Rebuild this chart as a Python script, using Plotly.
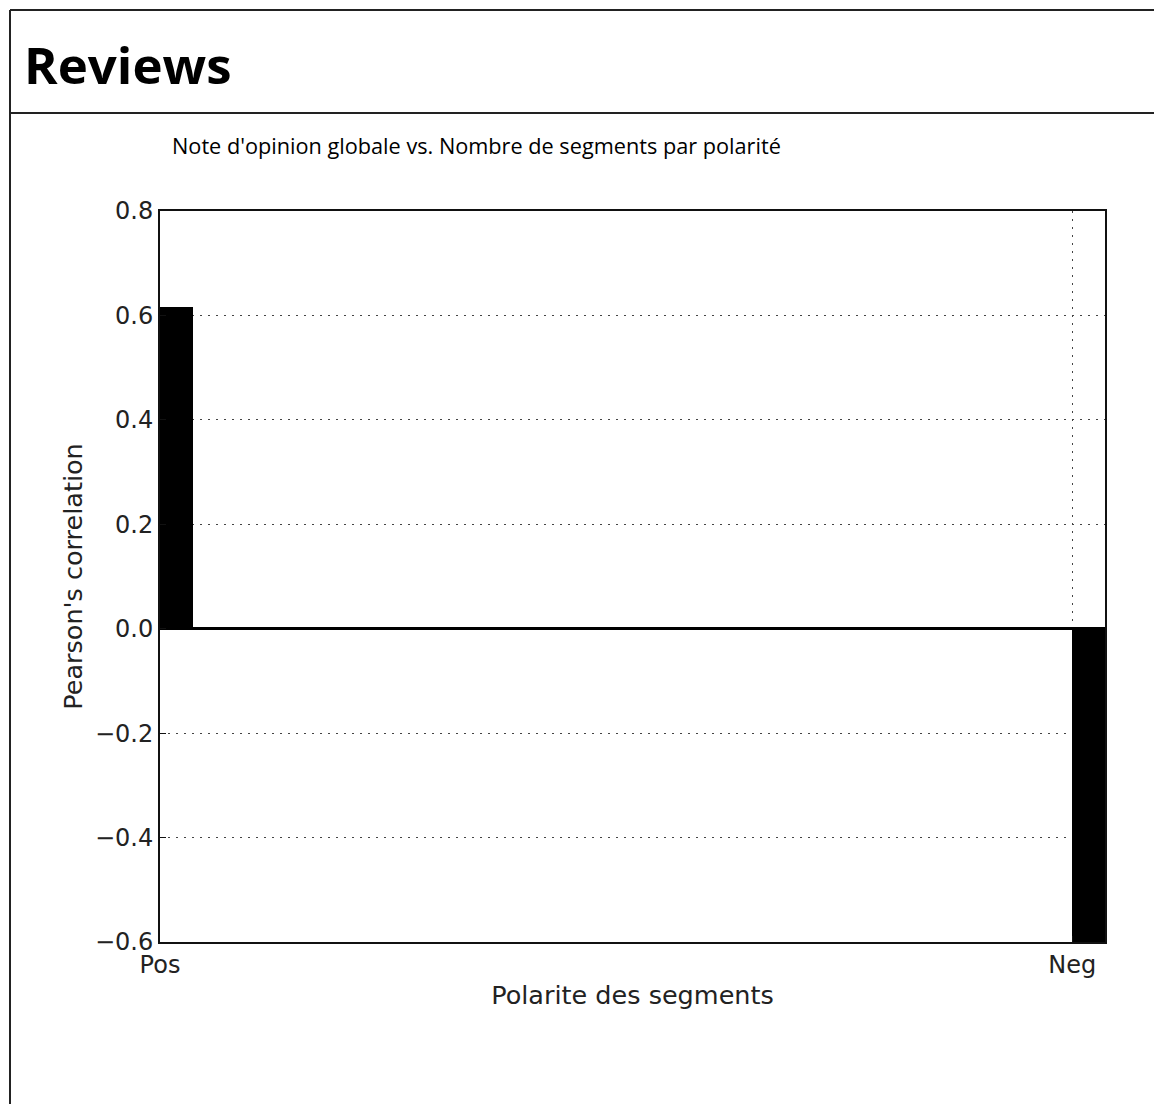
import plotly.graph_objects as go

# ---- data ----
categories = ["Pos", "Neg"]
positions = [0, 1]
correlation = [0.617, -0.62]
y_ticks = [-0.6, -0.4, -0.2, 0.0, 0.2, 0.4, 0.6, 0.8]
y_tick_labels = ["\u22120.6", "\u22120.4", "\u22120.2", "0.0", "0.2", "0.4", "0.6", "0.8"]
bar_width = 0.036

OFF = 8  # page body margin
W, H = 1162, 1104
L, R, T, B = 160 - OFF, 1105 - OFF, 211 - OFF, 942 - OFF  # plot area in figure pixels


def px_x(x):
    return (x - OFF - L) / (R - L)


def px_y(y):
    return (B - (y - OFF)) / (B - T)


fig = go.Figure()
fig.add_trace(go.Bar(
    x=positions, y=correlation, width=bar_width, offset=0,
    marker=dict(color="black", line=dict(color="black", width=0)),
    showlegend=False, hoverinfo="skip",
))

tickfont = dict(family="DejaVu Sans", size=24, color="#222")
titlefont = dict(family="DejaVu Sans", size=25.5, color="#222")

fig.update_layout(
    width=W, height=H,
    margin=dict(l=L, r=W - R, t=T, b=H - B, autoexpand=False),
    paper_bgcolor="white", plot_bgcolor="white",
    bargap=0,
    xaxis=dict(
        range=[0, 1 + bar_width], tickvals=positions, ticktext=categories,
        showgrid=True, gridcolor="#444", griddash="2px,6px", gridwidth=1.3,
        zeroline=False, showline=True, linecolor="#111", linewidth=2, mirror=True,
        ticks="inside", ticklen=6, tickcolor="#111",
        tickfont=tickfont, ticklabelstandoff=0,
        title=dict(text="Polarite des segments", font=titlefont, standoff=8),
    ),
    yaxis=dict(
        range=[-0.6, 0.8], tickvals=y_ticks, ticktext=y_tick_labels,
        showgrid=True, gridcolor="#444", griddash="2px,6px", gridwidth=1.3,
        zeroline=True, zerolinecolor="black", zerolinewidth=3,
        showline=True, linecolor="#111", linewidth=2, mirror=True,
        ticks="inside", ticklen=6, tickcolor="#111",
        tickfont=tickfont, ticklabelstandoff=0,
        title=dict(text="Pearson's correlation", font=titlefont, standoff=5),
    ),
)

# outer report box
line_style = dict(color="#222", width=2)
fig.add_shape(type="line", xref="paper", yref="paper",
              x0=px_x(10), x1=px_x(10), y0=px_y(10), y1=px_y(H + 20), line=line_style)
fig.add_shape(type="line", xref="paper", yref="paper",
              x0=px_x(10), x1=px_x(W + 20), y0=px_y(10), y1=px_y(10), line=line_style)
fig.add_shape(type="line", xref="paper", yref="paper",
              x0=px_x(10), x1=px_x(W + 20), y0=px_y(113), y1=px_y(113), line=line_style)

fig.add_annotation(text="<b>Reviews</b>", xref="paper", yref="paper",
                   x=px_x(22), y=px_y(64), xanchor="left", yanchor="middle",
                   showarrow=False, font=dict(family="Open Sans", size=51, color="black"))
fig.add_annotation(text="Note d'opinion globale vs. Nombre de segments par polarité",
                   xref="paper", yref="paper",
                   x=px_x(170), y=px_y(146), xanchor="left", yanchor="middle",
                   showarrow=False, font=dict(family="Open Sans", size=21.7, color="black"))

fig.write_html("out.html")
